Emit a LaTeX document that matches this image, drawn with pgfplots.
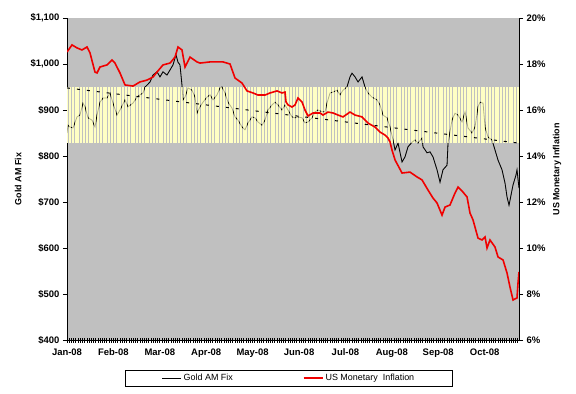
\documentclass[border=0pt]{standalone}
\usepackage{pgfplots}
\pgfplotsset{compat=1.18}
\usepackage{fontspec}
\setmainfont{Liberation Sans}
\usetikzlibrary{patterns.meta}
\definecolor{bg}{RGB}{192,192,192}
\definecolor{band}{RGB}{255,255,196}
\definecolor{infl}{RGB}{240,0,0}

\pgfplotstableread{
m gold
0.000 850
0.022 867
0.065 863
0.129 861
0.216 885
0.280 889
0.345 915
0.388 907
0.453 883
0.539 878
0.603 863
0.647 889
0.711 917
0.776 926
0.862 926
0.927 937
0.991 915
1.078 889
1.142 900
1.250 922
1.315 907
1.422 915
1.509 928
1.573 933
1.638 937
1.681 950
1.724 954
1.789 961
1.853 976
1.940 983
2.004 972
2.069 983
2.155 976
2.220 987
2.284 998
2.349 1020
2.392 1004
2.435 998
2.478 954
2.500 922
2.543 928
2.608 948
2.694 943
2.759 928
2.802 893
2.866 907
2.931 917
3.017 928
3.082 933
3.147 922
3.233 933
3.297 948
3.341 950
3.405 937
3.470 917
3.556 904
3.621 885
3.685 878
3.772 863
3.836 857
3.901 872
3.987 885
4.052 883
4.116 874
4.203 867
4.267 878
4.332 900
4.418 911
4.483 917
4.547 911
4.634 900
4.698 911
4.763 900
4.849 885
4.914 883
4.978 885
5.065 883
5.129 872
5.194 874
5.280 883
5.345 896
5.409 900
5.496 896
5.560 896
5.603 915
5.668 937
5.733 939
5.819 943
5.884 933
5.948 943
6.034 950
6.099 972
6.142 980
6.207 972
6.272 961
6.358 972
6.422 950
6.487 937
6.573 928
6.681 922
6.746 911
6.810 889
6.897 883
6.961 863
7.026 835
7.069 813
7.134 828
7.220 787
7.284 798
7.349 820
7.435 830
7.500 835
7.565 828
7.651 839
7.672 820
7.759 807
7.823 809
7.888 798
7.974 770
8.039 743
8.103 770
8.190 780
8.211 828
8.297 878
8.362 893
8.427 889
8.513 874
8.578 896
8.642 861
8.728 850
8.793 863
8.858 907
8.901 917
8.966 915
9.009 863
9.073 841
9.159 835
9.224 813
9.289 791
9.375 770
9.440 741
9.483 711
9.526 693
9.569 715
9.612 737
9.677 759
9.698 770
9.741 730
}\goldtable

\pgfplotstableread{
m infl
0.000 18.52
0.108 18.83
0.216 18.70
0.323 18.61
0.431 18.74
0.496 18.48
0.603 17.65
0.647 17.61
0.711 17.87
0.862 17.96
0.970 18.17
1.034 18.04
1.142 17.61
1.250 17.09
1.422 17.04
1.573 17.22
1.724 17.30
1.853 17.43
1.940 17.65
2.069 17.96
2.220 18.04
2.328 18.30
2.392 18.74
2.478 18.61
2.543 17.87
2.651 18.30
2.802 18.09
2.866 18.04
3.082 18.09
3.362 18.09
3.513 18.00
3.621 17.39
3.772 17.17
3.879 16.83
4.009 16.74
4.116 16.65
4.267 16.65
4.375 16.74
4.526 16.83
4.634 16.74
4.698 16.78
4.720 16.35
4.763 16.22
4.849 16.13
4.914 16.22
4.978 16.52
5.065 16.35
5.129 16.00
5.194 15.74
5.302 15.87
5.453 15.87
5.517 15.78
5.625 15.91
5.733 15.87
5.841 15.78
5.948 15.70
6.099 15.91
6.207 15.78
6.358 15.70
6.487 15.43
6.638 15.26
6.746 15.04
6.853 14.91
6.918 14.78
6.961 14.61
7.004 14.26
7.069 13.83
7.220 13.26
7.392 13.30
7.543 13.09
7.651 12.96
7.780 12.52
7.888 12.17
7.974 11.96
8.082 11.43
8.147 11.78
8.254 11.87
8.362 12.39
8.427 12.65
8.534 12.43
8.621 12.22
8.685 11.52
8.750 11.22
8.858 10.43
8.944 10.35
9.009 10.48
9.052 10.00
9.116 10.35
9.224 10.04
9.289 9.61
9.397 9.48
9.483 8.91
9.547 8.30
9.612 7.74
9.698 7.83
9.720 8.48
9.741 8.96
}\infltable

\begin{document}
\begin{tikzpicture}
\useasboundingbox (-67bp,-54bp) rectangle (509bp,340bp);
\pgfplotsset{
  every axis/.append style={
    scale only axis, width=452bp, height=322bp,
    xmin=0, xmax=9.741,
    /pgf/number format/assume math mode=true,
    tick style={black, line width=0.6bp},
    axis line style={black, line width=0.8bp},
    ticklabel style={font=\fontsize{9.5}{11}\selectfont\bfseries},
    label style={font=\fontsize{9}{10}\selectfont\bfseries},
  }
}
\begin{axis}[
  axis x line*=bottom, axis y line*=left,
  axis background/.style={fill=bg},
  ymin=400, ymax=1100,
  ytick={400,500,...,1100},
  yticklabel={\$\pgfmathprintnumber[1000 sep={,}]{\tick}},
  ytick align=outside, major tick length=4bp,
  xtick={0,...,9},
  xticklabels={Jan-08,Feb-08,Mar-08,Apr-08,May-08,Jun-08,Jul-08,Aug-08,Sep-08,Oct-08},
  minor xtick={0,0.047619,...,9.75},
  xtick align=center,
  x tick style={line width=0.7bp},
  minor tick length=5bp,
  xticklabel style={yshift=-3bp},
  ylabel={Gold AM Fix},
  ylabel style={at={(axis description cs:-0.108,0.5)}, anchor=center},
]
\addplot[black, line width=0.8bp] table[x=m, y=gold] {\goldtable};
\addplot[draw=none, pattern={Lines[angle=90, distance=2.8bp, line width=2.0bp]}, pattern color=band]
  coordinates {(0,828) (9.741,828) (9.741,948) (0,948)} -- cycle;
\addplot[black, opacity=0.3, line width=0.8bp] table[x=m, y=gold] {\goldtable};
\addplot[black, line width=1bp, dash pattern=on 3bp off 7bp] coordinates {(0,948) (9.741,828)};
\end{axis}
\begin{axis}[
  axis x line=none, axis y line*=right,
  ymin=6, ymax=20,
  ytick={6,8,...,20},
  yticklabel={\pgfmathprintnumber{\tick}\%},
  ytick align=outside, major tick length=4bp,
  xtick=\empty,
  ylabel={US Monetary Inflation},
  ylabel style={at={(axis description cs:1.084,0.53)}, anchor=center},
  legend columns=2,
  legend style={at={(0.491,-0.093)}, anchor=north, draw=black, line width=0.6bp,
    fill=white, font=\fontsize{9}{10}\selectfont, inner xsep=36bp, inner ysep=2bp,
    /tikz/every even column/.append style={column sep=68bp}},
  legend image code/.code={\draw[#1] (0bp,0bp) -- (19bp,0bp);},
]
\addlegendimage{black, line width=1bp}
\addlegendentry{Gold AM Fix}
\addplot[infl, line width=1.6bp] table[x=m, y=infl] {\infltable};
\addlegendentry{US Monetary\ \ Inflation}
\end{axis}
\end{tikzpicture}
\end{document}
